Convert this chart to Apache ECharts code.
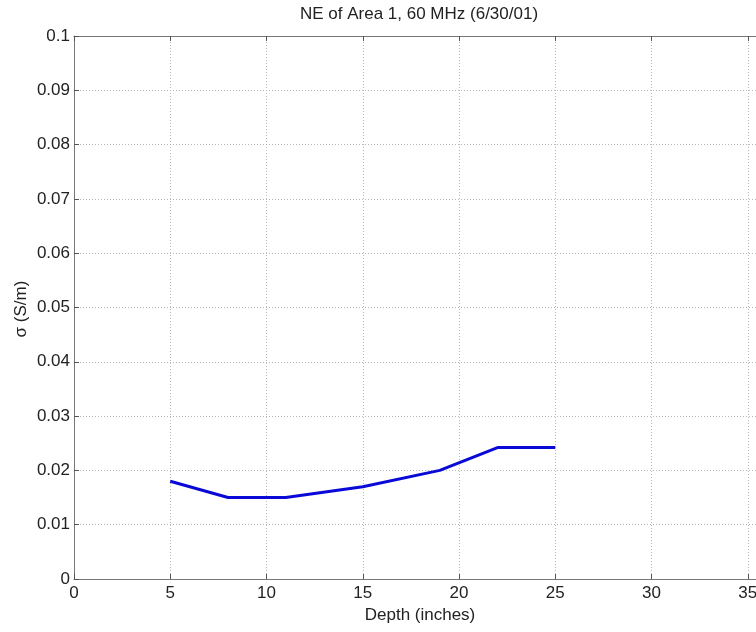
<!DOCTYPE html>
<html>
<head>
<meta charset="utf-8">
<script src="https://cdn.jsdelivr.net/npm/echarts@6/dist/echarts.min.js"></script>
<style>html,body{margin:0;padding:0;background:#fff;overflow:hidden;width:756px;height:632px;}#c{width:860px;height:632px;}</style>
</head>
<body>
<div id="c"></div>
<script>
const titleText = 'NE of Area 1, 60 MHz (6/30/01)';
const xLabel = 'Depth (inches)';
const yLabel = 'σ (S/m)';
const depth = [5, 8, 11, 15, 19, 22, 25];
const sigma = [0.018, 0.015, 0.015, 0.017, 0.020, 0.0242, 0.0242];
const xTicks = [0, 5, 10, 15, 20, 25, 30, 35, 40];
const yTicks = [0, 0.01, 0.02, 0.03, 0.04, 0.05, 0.06, 0.07, 0.08, 0.09, 0.1];

const chart = echarts.init(document.getElementById('c'), null, {renderer: 'canvas', width: 860, height: 632});
const FONT = '"Liberation Sans", Arial, Helvetica, sans-serif';
const axisLineColor = '#777';
const gridColor = '#b8b8b8';

const baseX = {
  type: 'value', min: xTicks[0], max: xTicks[xTicks.length - 1], interval: 5,
  axisLine: {show: true, onZero: false, lineStyle: {color: axisLineColor, width: 1}},
  axisTick: {show: true, inside: true, length: 5, lineStyle: {color: '#555'}},
  splitLine: {show: false}
};
const baseY = {
  type: 'value', min: yTicks[0], max: yTicks[yTicks.length - 1], interval: 0.01,
  axisLine: {show: true, onZero: false, lineStyle: {color: axisLineColor, width: 1}},
  axisTick: {show: true, inside: true, length: 5, lineStyle: {color: '#555'}},
  splitLine: {show: false}
};

chart.setOption({
  animation: false,
  backgroundColor: '#fff',
  grid: {left: 74, top: 36, width: 770, height: 543, containLabel: false},
  xAxis: [
    Object.assign({}, baseX, {
      position: 'bottom',
      axisLabel: {show: true, color: '#222', fontSize: 17, fontFamily: FONT, margin: 6},
      splitLine: {show: true, lineStyle: {color: gridColor, type: [1, 2], width: 1}}
    }),
    Object.assign({}, baseX, {position: 'top', axisLabel: {show: false}})
  ],
  yAxis: [
    Object.assign({}, baseY, {
      position: 'left',
      axisLabel: {show: true, color: '#222', fontSize: 17, fontFamily: FONT, margin: 4,
        formatter: v => String(parseFloat(v.toFixed(2)))},
      splitLine: {show: true, lineStyle: {color: gridColor, type: [1, 2], width: 1}}
    }),
    Object.assign({}, baseY, {position: 'right', axisLabel: {show: false}})
  ],
  series: [{
    type: 'line',
    data: depth.map((d, i) => [d, sigma[i]]),
    showSymbol: false,
    lineStyle: {color: '#0a0ad8', width: 3},
    itemStyle: {color: '#0a0ad8'}
  }],
  graphic: [
    {type: 'text', x: 419, y: 14, style: {text: titleText, textAlign: 'center', textVerticalAlign: 'middle', font: '17px ' + FONT, fill: '#222'}},
    {type: 'text', x: 420, y: 615, style: {text: xLabel, textAlign: 'center', textVerticalAlign: 'middle', font: '17px ' + FONT, fill: '#222'}},
    {type: 'text', x: 21, y: 309, rotation: Math.PI / 2, style: {text: yLabel, textAlign: 'center', textVerticalAlign: 'middle', font: '17px ' + FONT, fill: '#222'}}
  ]
});
</script>
</body>
</html>
